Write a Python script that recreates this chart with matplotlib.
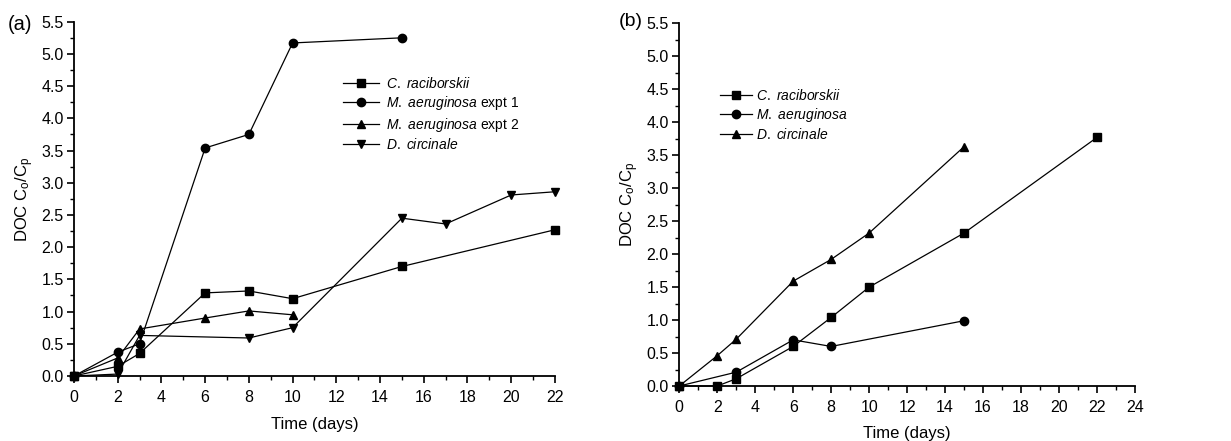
import numpy as np
import matplotlib
matplotlib.use("Agg")
import matplotlib.pyplot as plt
from matplotlib.ticker import MultipleLocator, FormatStrFormatter

plt.rcParams['font.family'] = ['Liberation Sans', 'DejaVu Sans']
plt.rcParams['mathtext.fontset'] = 'custom'
plt.rcParams['mathtext.rm'] = 'Liberation Sans'
plt.rcParams['mathtext.it'] = 'Liberation Sans:italic'

# panel (a)
a_cr_x = [0, 2, 3, 6, 8, 10, 15, 22]
a_cr_y = [0, 0.15, 0.35, 1.29, 1.32, 1.20, 1.70, 2.27]
a_ma1_x = [0, 2, 3, 6, 8, 10, 15]
a_ma1_y = [0, 0.37, 0.50, 3.54, 3.75, 5.17, 5.25]
a_ma2_x = [0, 2, 3, 6, 8, 10]
a_ma2_y = [0, 0.28, 0.73, 0.90, 1.01, 0.95]
a_dc_x = [0, 2, 3, 8, 10, 15, 17, 20, 22]
a_dc_y = [0, 0.03, 0.63, 0.59, 0.75, 2.45, 2.36, 2.81, 2.86]

# panel (b)
b_cr_x = [0, 2, 3, 6, 8, 10, 15, 22]
b_cr_y = [0, 0.0, 0.11, 0.60, 1.04, 1.50, 2.32, 3.77]
b_ma_x = [0, 3, 6, 8, 15]
b_ma_y = [0, 0.21, 0.70, 0.60, 0.99]
b_dc_x = [0, 2, 3, 6, 8, 10, 15]
b_dc_y = [0, 0.46, 0.71, 1.59, 1.92, 2.32, 3.63]

tick_fs = 11.5
label_fs = 12
leg_fs = 10

fig = plt.figure(figsize=(12.31, 4.41), dpi=100)
axa = fig.add_axes([0.0601, 0.1474, 0.3907, 0.8034])
axb = fig.add_axes([0.5518, 0.1247, 0.3702, 0.8224])

kw = dict(color='black', lw=0.9, ms=6)
axa.plot(a_cr_x, a_cr_y, marker='s', label=r'$\it{C.\ raciborskii}$', **kw)
axa.plot(a_ma1_x, a_ma1_y, marker='o', label=r'$\it{M.\ aeruginosa}$ expt 1', **kw)
axa.plot(a_ma2_x, a_ma2_y, marker='^', label=r'$\it{M.\ aeruginosa}$ expt 2', **kw)
axa.plot(a_dc_x, a_dc_y, marker='v', label=r'$\it{D.\ circinale}$', **kw)

axb.plot(b_cr_x, b_cr_y, marker='s', label=r'$\it{C.\ raciborskii}$', **kw)
axb.plot(b_ma_x, b_ma_y, marker='o', label=r'$\it{M.\ aeruginosa}$', **kw)
axb.plot(b_dc_x, b_dc_y, marker='^', label=r'$\it{D.\ circinale}$', **kw)

for ax, xmax in ((axa, 22), (axb, 24)):
    ax.set_xlim(0, xmax)
    ax.set_ylim(0, 5.5)
    ax.xaxis.set_major_locator(MultipleLocator(2))
    ax.xaxis.set_minor_locator(MultipleLocator(1))
    ax.yaxis.set_major_locator(MultipleLocator(0.5))
    ax.yaxis.set_minor_locator(MultipleLocator(0.25))
    ax.spines['top'].set_visible(False)
    ax.spines['right'].set_visible(False)
    for s in ('left', 'bottom'):
        ax.spines[s].set_linewidth(1.3)
    ax.tick_params(which='major', direction='out', length=5, width=1.2, labelsize=tick_fs)
    ax.tick_params(which='minor', direction='out', length=3, width=1.0)
    ax.tick_params(axis='y', pad=2.5)
    ax.tick_params(axis='x', pad=5)
    ax.yaxis.set_major_formatter(FormatStrFormatter('%.1f'))
    ax.set_ylabel(r'DOC C$_\mathregular{o}$/C$_\mathregular{p}$', fontsize=label_fs, labelpad=4)

axa.set_xlabel('Time (days)', fontsize=label_fs, labelpad=9)
axb.set_xlabel('Time (days)', fontsize=label_fs, labelpad=8)

for line in axa.lines + axb.lines:
    line.set_clip_on(False)

axa.legend(loc='upper left', bbox_to_anchor=(0.559, 0.847), frameon=False, fontsize=leg_fs,
           handlelength=2.6, handletextpad=0.5, labelspacing=0.24, borderpad=0, borderaxespad=0)
axb.legend(loc='upper left', bbox_to_anchor=(0.089, 0.821), frameon=False, fontsize=leg_fs,
           handlelength=2.3, handletextpad=0.3, labelspacing=0.21, borderpad=0, borderaxespad=0)

fig.text(0.006, 0.932, '(a)', fontsize=14.5)
fig.text(0.503, 0.941, '(b)', fontsize=14)

fig.savefig('out.png', dpi=100)
